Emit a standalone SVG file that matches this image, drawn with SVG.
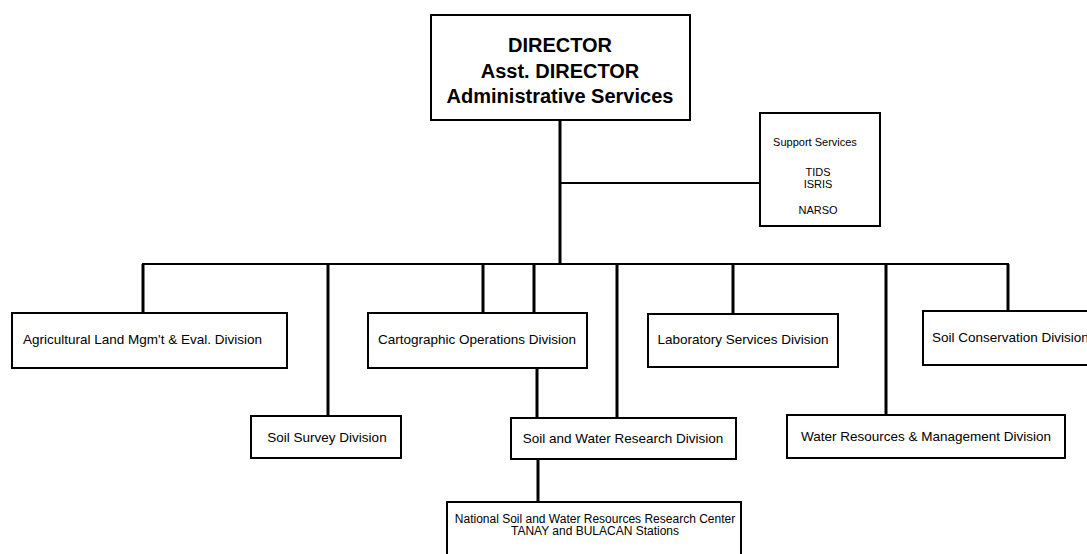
<svg xmlns="http://www.w3.org/2000/svg" width="1087" height="554" viewBox="0 0 1087 554">
<style>
.box{fill:#fff;stroke:#000;stroke-width:2}
.ln{stroke:#000;stroke-width:3;fill:none}
.bus{stroke:#000;stroke-width:2;fill:none}
.t{font-family:"Liberation Sans",Arial,sans-serif;font-size:13.5px;fill:#000}
.tc{text-anchor:middle}
.dir{font-family:"Liberation Sans",Arial,sans-serif;font-size:20px;font-weight:bold;fill:#000;text-anchor:middle}
.s{font-family:"Liberation Sans",Arial,sans-serif;font-size:11px;fill:#000;text-anchor:middle}
.n{font-family:"Liberation Sans",Arial,sans-serif;font-size:12px;fill:#000;text-anchor:middle}
</style>
<rect width="1087" height="554" fill="#fff"/>
<g id="connectors">
<line class="ln" x1="560" y1="120" x2="560" y2="264"/>
<line class="bus" x1="560" y1="183" x2="760" y2="183"/>
<line class="bus" x1="142" y1="264" x2="1009" y2="264"/>
<line class="ln" x1="143" y1="264" x2="143" y2="313"/>
<line class="ln" x1="328" y1="264" x2="328" y2="416"/>
<line class="ln" x1="483" y1="264" x2="483" y2="313"/>
<line class="ln" x1="534" y1="264" x2="534" y2="313"/>
<line class="ln" x1="617" y1="264" x2="617" y2="418"/>
<line class="ln" x1="733" y1="264" x2="733" y2="314"/>
<line class="ln" x1="886" y1="264" x2="886" y2="415"/>
<line class="ln" x1="1008" y1="264" x2="1008" y2="311"/>
<line class="ln" x1="537" y1="368" x2="537" y2="418"/>
<line class="ln" x1="538" y1="459" x2="538" y2="502"/>
</g>
<g id="director">
<rect class="box" x="431" y="15" width="259" height="105"/>
<text class="dir" x="560" y="52">DIRECTOR</text>
<text class="dir" x="560" y="78">Asst. DIRECTOR</text>
<text class="dir" x="560" y="103">Administrative Services</text>
</g>
<g id="support">
<rect class="box" x="760" y="113" width="120" height="113"/>
<text class="s" x="815" y="146">Support Services</text>
<text class="s" x="818" y="176">TIDS</text>
<text class="s" x="818" y="188">ISRIS</text>
<text class="s" x="818" y="214">NARSO</text>
</g>
<g id="agri">
<rect class="box" x="12" y="313" width="275" height="55"/>
<text class="t" x="23" y="344">Agricultural Land Mgm't &amp; Eval. Division</text>
</g>
<g id="carto">
<rect class="box" x="368" y="313" width="219" height="55"/>
<text class="t tc" x="477" y="344">Cartographic Operations Division</text>
</g>
<g id="lab">
<rect class="box" x="648" y="314" width="190" height="53"/>
<text class="t tc" x="743" y="344">Laboratory Services Division</text>
</g>
<g id="soilcons">
<rect class="box" x="923" y="311" width="180" height="54"/>
<text class="t" x="932" y="342">Soil Conservation Division</text>
</g>
<g id="soilsurvey">
<rect class="box" x="251" y="416" width="150" height="42"/>
<text class="t tc" x="327" y="442">Soil Survey Division</text>
</g>
<g id="swrd">
<rect class="box" x="511" y="418" width="225" height="41"/>
<text class="t tc" x="623" y="443">Soil and Water Research Division</text>
</g>
<g id="wrmd">
<rect class="box" x="787" y="415" width="278" height="43"/>
<text class="t tc" x="926" y="441">Water Resources &amp; Management Division</text>
</g>
<g id="national">
<rect class="box" x="447" y="502" width="294" height="60"/>
<text class="n" x="595" y="523">National Soil and Water Resources Research Center</text>
<text class="n" x="595" y="535">TANAY and BULACAN Stations</text>
</g>
</svg>
